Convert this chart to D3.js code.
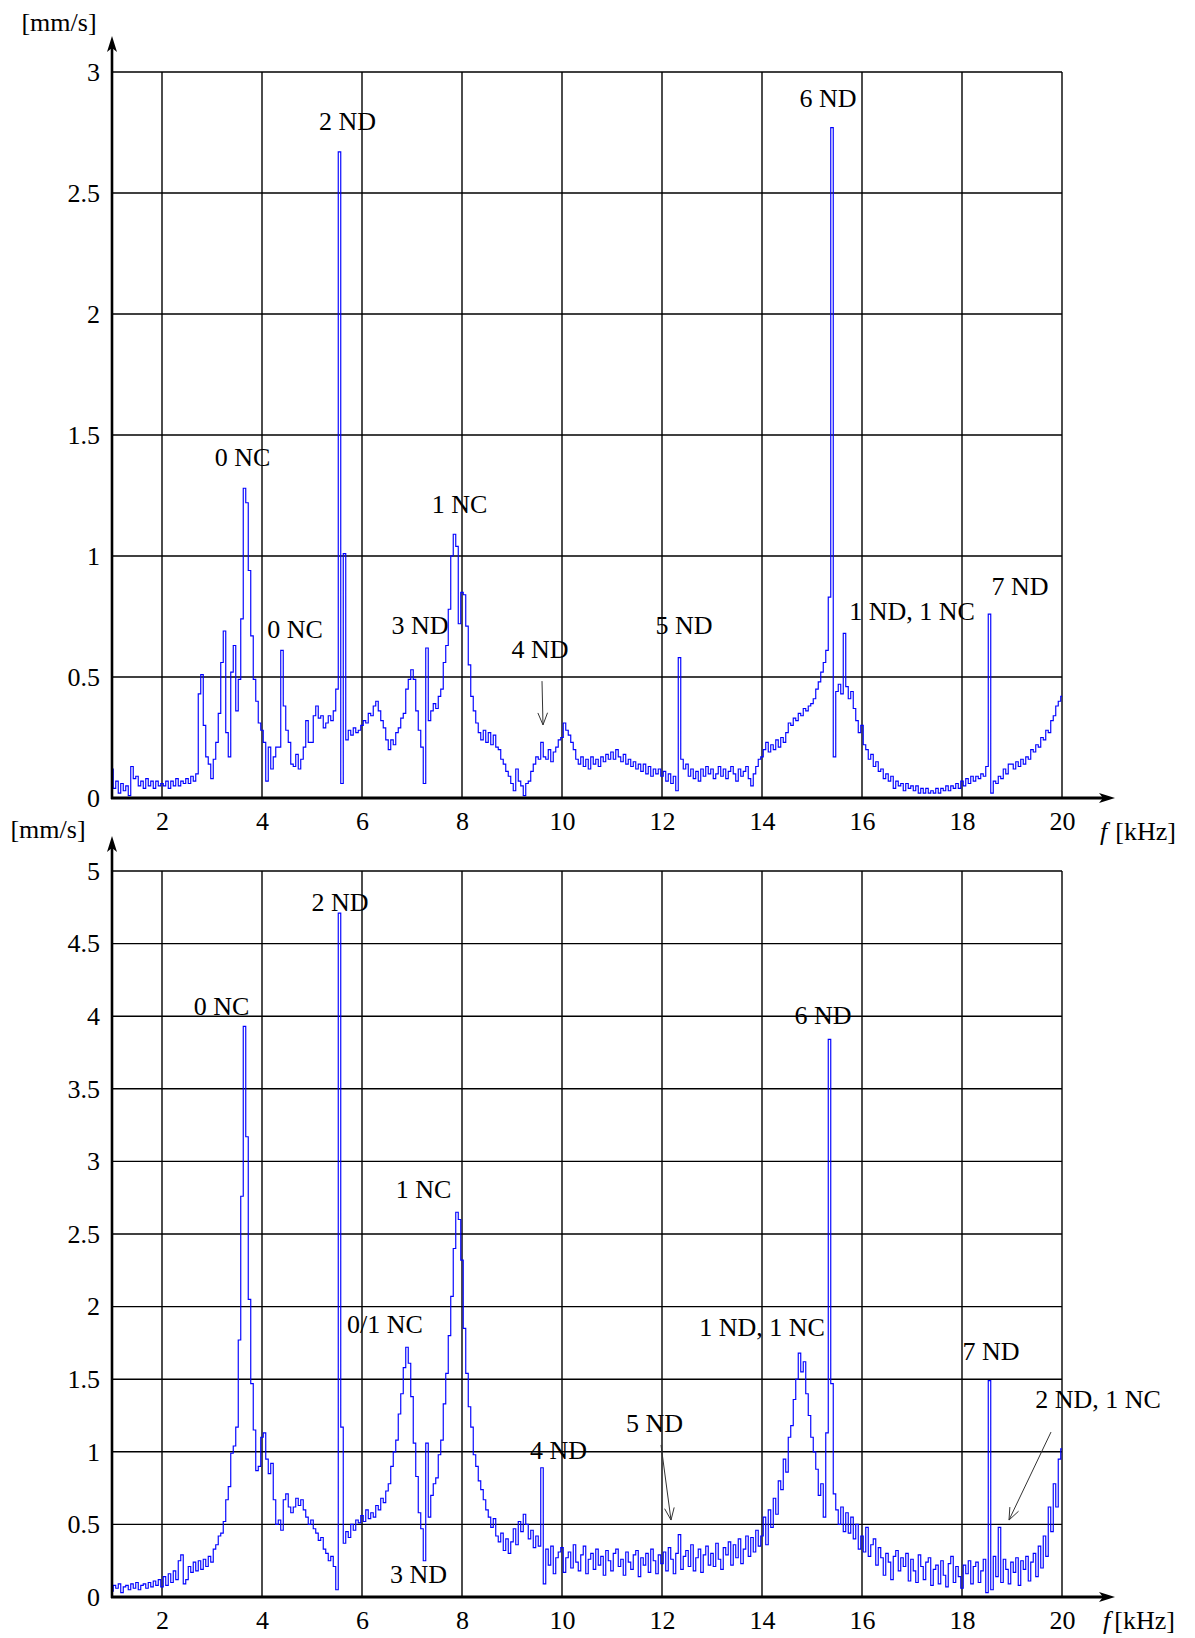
<!DOCTYPE html>
<html>
<head>
<meta charset="utf-8">
<script src="https://cdn.jsdelivr.net/npm/d3@7"></script>
<style>
  body { margin: 0; background: #fff; }
  svg text { font-family: "Liberation Serif", "Times New Roman", serif; fill: #000; }
</style>
</head>
<body>
<svg id="fig" width="1195" height="1638"></svg>
<script>
// Frequency axis ticks [kHz] and amplitude ticks [mm/s]
const freqTicks = [2, 4, 6, 8, 10, 12, 14, 16, 18, 20];
const topTicks = [0, 0.5, 1, 1.5, 2, 2.5, 3];
const bottomTicks = [0, 0.5, 1, 1.5, 2, 2.5, 3, 3.5, 4, 4.5, 5];

// Spectrum resolution: each row holds one 1 kHz band, bins every 0.05 kHz
const binWidth = 0.05;

// Upper spectrum, velocity amplitude [mm/s], bands 1..20 kHz
const topAmplitude = [
  [0.12, 0.04, 0.07, 0.02, 0.06, 0.03, 0.05, 0.01, 0.13, 0.08, 0.09, 0.05, 0.07, 0.04, 0.08, 0.05, 0.07, 0.04, 0.07, 0.05],
  [0.06, 0.05, 0.07, 0.04, 0.07, 0.05, 0.08, 0.05, 0.07, 0.06, 0.08, 0.06, 0.09, 0.07, 0.10, 0.43, 0.51, 0.30, 0.17, 0.14],
  [0.08, 0.16, 0.23, 0.35, 0.56, 0.69, 0.27, 0.17, 0.52, 0.63, 0.36, 0.49, 0.74, 1.28, 1.22, 0.94, 0.67, 0.49, 0.40, 0.31],
  [0.28, 0.23, 0.07, 0.21, 0.12, 0.17, 0.21, 0.21, 0.61, 0.38, 0.28, 0.23, 0.14, 0.13, 0.18, 0.12, 0.16, 0.21, 0.32, 0.23],
  [0.23, 0.34, 0.38, 0.33, 0.34, 0.29, 0.31, 0.34, 0.32, 0.36, 0.45, 2.67, 0.06, 1.01, 0.24, 0.28, 0.26, 0.29, 0.27, 0.28],
  [0.30, 0.32, 0.31, 0.35, 0.34, 0.38, 0.40, 0.36, 0.32, 0.29, 0.24, 0.20, 0.24, 0.22, 0.27, 0.29, 0.33, 0.35, 0.45, 0.49],
  [0.53, 0.49, 0.36, 0.28, 0.21, 0.06, 0.62, 0.32, 0.36, 0.39, 0.37, 0.42, 0.45, 0.56, 0.63, 0.78, 1.00, 1.09, 1.04, 0.72],
  [0.85, 0.84, 0.71, 0.55, 0.42, 0.36, 0.31, 0.27, 0.24, 0.28, 0.23, 0.27, 0.22, 0.26, 0.21, 0.20, 0.16, 0.14, 0.11, 0.09],
  [0.06, 0.03, 0.12, 0.07, 0.05, 0.01, 0.06, 0.07, 0.11, 0.14, 0.17, 0.16, 0.23, 0.17, 0.16, 0.20, 0.15, 0.19, 0.21, 0.24],
  [0.25, 0.31, 0.28, 0.26, 0.23, 0.20, 0.16, 0.14, 0.17, 0.13, 0.16, 0.12, 0.17, 0.14, 0.16, 0.13, 0.17, 0.15, 0.18, 0.16],
  [0.19, 0.16, 0.20, 0.17, 0.15, 0.18, 0.14, 0.16, 0.13, 0.15, 0.12, 0.14, 0.11, 0.14, 0.10, 0.13, 0.09, 0.12, 0.10, 0.12],
  [0.09, 0.11, 0.07, 0.10, 0.06, 0.09, 0.03, 0.58, 0.16, 0.12, 0.14, 0.09, 0.12, 0.08, 0.11, 0.07, 0.12, 0.09, 0.13, 0.10],
  [0.12, 0.08, 0.10, 0.13, 0.09, 0.12, 0.08, 0.11, 0.13, 0.10, 0.07, 0.12, 0.09, 0.11, 0.13, 0.08, 0.05, 0.10, 0.13, 0.16],
  [0.17, 0.20, 0.23, 0.19, 0.22, 0.20, 0.24, 0.21, 0.25, 0.23, 0.27, 0.31, 0.30, 0.33, 0.32, 0.35, 0.34, 0.37, 0.36, 0.38],
  [0.39, 0.41, 0.45, 0.48, 0.52, 0.56, 0.61, 0.83, 2.77, 0.17, 0.44, 0.47, 0.43, 0.68, 0.46, 0.41, 0.44, 0.37, 0.32, 0.27],
  [0.30, 0.22, 0.20, 0.16, 0.18, 0.13, 0.15, 0.11, 0.12, 0.08, 0.10, 0.07, 0.09, 0.04, 0.07, 0.05, 0.06, 0.03, 0.06, 0.04],
  [0.05, 0.03, 0.05, 0.02, 0.04, 0.02, 0.04, 0.02, 0.03, 0.02, 0.04, 0.02, 0.04, 0.03, 0.05, 0.03, 0.05, 0.04, 0.06, 0.04],
  [0.07, 0.05, 0.08, 0.06, 0.09, 0.07, 0.09, 0.08, 0.10, 0.09, 0.13, 0.76, 0.02, 0.07, 0.06, 0.09, 0.08, 0.12, 0.10, 0.14],
  [0.14, 0.12, 0.15, 0.13, 0.16, 0.14, 0.17, 0.16, 0.20, 0.19, 0.22, 0.21, 0.25, 0.24, 0.28, 0.27, 0.32, 0.34, 0.38, 0.40],
  [0.42]
];

// Lower spectrum, velocity amplitude [mm/s], bands 1..20 kHz
const bottomAmplitude = [
  [0.04, 0.08, 0.06, 0.09, 0.03, 0.07, 0.08, 0.05, 0.09, 0.06, 0.10, 0.05, 0.08, 0.09, 0.06, 0.10, 0.07, 0.11, 0.08, 0.12],
  [0.07, 0.14, 0.08, 0.16, 0.10, 0.18, 0.12, 0.25, 0.29, 0.09, 0.12, 0.21, 0.17, 0.24, 0.18, 0.25, 0.19, 0.26, 0.21, 0.28],
  [0.24, 0.33, 0.36, 0.42, 0.44, 0.52, 0.67, 0.76, 0.99, 1.04, 1.17, 1.77, 2.76, 3.93, 3.17, 2.05, 1.47, 1.15, 0.87, 0.90],
  [1.10, 1.13, 0.95, 0.85, 0.92, 0.67, 0.50, 0.53, 0.46, 0.67, 0.71, 0.62, 0.58, 0.62, 0.68, 0.63, 0.67, 0.60, 0.55, 0.50],
  [0.53, 0.47, 0.44, 0.39, 0.41, 0.33, 0.30, 0.25, 0.28, 0.21, 0.05, 4.71, 1.17, 0.37, 0.45, 0.41, 0.50, 0.46, 0.53, 0.51],
  [0.56, 0.52, 0.60, 0.54, 0.58, 0.55, 0.63, 0.60, 0.68, 0.65, 0.73, 0.78, 0.90, 1.00, 1.08, 1.26, 1.40, 1.58, 1.72, 1.61],
  [1.38, 1.06, 0.83, 0.58, 0.47, 0.25, 1.06, 0.55, 0.70, 0.78, 0.82, 0.98, 1.08, 1.33, 1.54, 1.80, 2.07, 2.40, 2.65, 2.60],
  [2.32, 1.85, 1.54, 1.31, 1.17, 0.98, 0.90, 0.80, 0.74, 0.67, 0.60, 0.55, 0.48, 0.54, 0.42, 0.38, 0.44, 0.32, 0.40, 0.30],
  [0.38, 0.47, 0.36, 0.52, 0.45, 0.57, 0.50, 0.40, 0.46, 0.34, 0.42, 0.35, 0.89, 0.09, 0.33, 0.22, 0.35, 0.16, 0.27, 0.31],
  [0.34, 0.17, 0.27, 0.31, 0.20, 0.36, 0.24, 0.18, 0.29, 0.35, 0.16, 0.26, 0.30, 0.19, 0.33, 0.22, 0.28, 0.15, 0.32, 0.25],
  [0.18, 0.30, 0.33, 0.21, 0.26, 0.15, 0.31, 0.24, 0.19, 0.29, 0.32, 0.14, 0.27, 0.22, 0.30, 0.17, 0.33, 0.25, 0.16, 0.29],
  [0.23, 0.31, 0.18, 0.34, 0.26, 0.16, 0.30, 0.43, 0.19, 0.28, 0.32, 0.21, 0.36, 0.18, 0.27, 0.33, 0.17, 0.29, 0.35, 0.22],
  [0.30, 0.21, 0.37, 0.26, 0.19, 0.34, 0.29, 0.38, 0.22, 0.36, 0.27, 0.40, 0.23, 0.33, 0.42, 0.28, 0.41, 0.31, 0.46, 0.35],
  [0.42, 0.55, 0.36, 0.60, 0.48, 0.68, 0.57, 0.80, 0.74, 0.95, 0.86, 1.10, 1.18, 1.36, 1.50, 1.68, 1.55, 1.62, 1.40, 1.25],
  [1.10, 1.00, 0.88, 0.70, 0.78, 0.55, 1.13, 3.84, 1.47, 0.71, 0.60, 0.50, 0.62, 0.45, 0.58, 0.44, 0.55, 0.40, 0.50, 0.33],
  [0.42, 0.31, 0.48, 0.28, 0.36, 0.40, 0.22, 0.34, 0.27, 0.15, 0.30, 0.24, 0.12, 0.28, 0.32, 0.18, 0.27, 0.21, 0.30, 0.11],
  [0.26, 0.18, 0.10, 0.29, 0.21, 0.12, 0.24, 0.27, 0.08, 0.19, 0.22, 0.09, 0.25, 0.15, 0.07, 0.23, 0.28, 0.10, 0.21, 0.14],
  [0.06, 0.22, 0.16, 0.25, 0.09, 0.21, 0.24, 0.10, 0.18, 0.26, 0.03, 1.49, 0.05, 0.28, 0.14, 0.48, 0.10, 0.26, 0.19, 0.09],
  [0.24, 0.17, 0.27, 0.08, 0.25, 0.19, 0.28, 0.11, 0.24, 0.30, 0.14, 0.35, 0.20, 0.42, 0.28, 0.62, 0.45, 0.78, 0.62, 0.95],
  [1.02]
];

// Mode labels (ND = nodal diameters, NC = nodal circles), placed in data coordinates
const topLabels = [
  { text: "2 ND", f: 5.71, v: 2.76 },
  { text: "6 ND", f: 15.32, v: 2.855 },
  { text: "0 NC", f: 3.61, v: 1.372 },
  { text: "1 NC", f: 7.95, v: 1.178 },
  { text: "0 NC", f: 4.66, v: 0.661 },
  { text: "3 ND", f: 7.16, v: 0.678 },
  { text: "4 ND", f: 9.56, v: 0.58 },
  { text: "5 ND", f: 12.44, v: 0.678 },
  { text: "1 ND, 1 NC", f: 17.0, v: 0.736 },
  { text: "7 ND", f: 19.16, v: 0.839 }
];
const bottomLabels = [
  { text: "2 ND", f: 5.56, v: 4.725 },
  { text: "0 NC", f: 3.19, v: 4.008 },
  { text: "6 ND", f: 15.22, v: 3.946 },
  { text: "1 NC", f: 7.23, v: 2.748 },
  { text: "0/1 NC", f: 6.46, v: 1.818 },
  { text: "3 ND", f: 7.13, v: 0.096 },
  { text: "1 ND, 1 NC", f: 14.0, v: 1.798 },
  { text: "7 ND", f: 18.58, v: 1.632 },
  { text: "5 ND", f: 11.85, v: 1.138 },
  { text: "4 ND", f: 9.93, v: 0.95 },
  { text: "2 ND, 1 NC", f: 20.72, v: 1.302 }
];
// Pointer arrows for labels away from their peaks
const topPointers = [ { f0: 9.60, v0: 0.483, f1: 9.62, v1: 0.302 } ];
const bottomPointers = [
  { f0: 11.98, v0: 1.047, f1: 12.18, v1: 0.53 },
  { f0: 19.78, v0: 1.136, f1: 18.94, v1: 0.53 }
];

const svg = d3.select("#fig");
const x = d3.scaleLinear().domain([1, 20]).range([112, 1062]);

function toSeries(rows) {
  const out = [];
  rows.forEach((row, r) => row.forEach((v, c) => out.push({ f: +(1 + r + c * binWidth).toFixed(2), v })));
  return out;
}

function drawPanel(cfg) {
  const y = d3.scaleLinear().domain(cfg.yDomain).range(cfg.yRange);
  const g = svg.append("g");
  const [x0, x1] = x.range();
  const y0 = y(cfg.yDomain[0]);
  const yTop = y(cfg.yDomain[1]);

  // grid
  g.append("g").selectAll("line").data(freqTicks).join("line")
    .attr("x1", d => x(d)).attr("x2", d => x(d))
    .attr("y1", y0).attr("y2", yTop)
    .attr("stroke", "#000").attr("stroke-width", 1.4);
  g.append("g").selectAll("line").data(cfg.ticks.filter(t => t > 0)).join("line")
    .attr("x1", x0).attr("x2", x1)
    .attr("y1", d => y(d)).attr("y2", d => y(d))
    .attr("stroke", "#000").attr("stroke-width", 1.4);

  // spectrum
  const line = d3.line().x(d => x(d.f)).y(d => y(d.v)).curve(d3.curveStep);
  g.append("path").datum(toSeries(cfg.amplitude))
    .attr("d", line).attr("fill", "none")
    .attr("stroke", "#0000ff").attr("stroke-width", 1.15)
    .attr("stroke-linejoin", "miter");

  // tick labels
  const yAxis = d3.axisLeft(y).tickValues(cfg.ticks).tickSize(0).tickPadding(12)
    .tickFormat(d3.format("~g"));
  g.append("g").attr("transform", `translate(${x0},0)`).call(yAxis)
    .call(s => s.select(".domain").remove())
    .selectAll("text").attr("font-size", 26).attr("font-family", "Liberation Serif").attr("fill", "#000");
  const xAxis = d3.axisBottom(x).tickValues(freqTicks).tickSize(0).tickPadding(14)
    .tickFormat(d3.format("d"));
  g.append("g").attr("transform", `translate(0,${y0})`).call(xAxis)
    .call(s => s.select(".domain").remove())
    .selectAll("text").attr("font-size", 26).attr("font-family", "Liberation Serif").attr("fill", "#000");

  // axes with arrowheads
  g.append("line").attr("x1", x0).attr("x2", x0).attr("y1", y0 + 1).attr("y2", cfg.yTip + 10)
    .attr("stroke", "#000").attr("stroke-width", 2.6);
  g.append("path")
    .attr("d", `M${x0},${cfg.yTip} L${x0 - 5},${cfg.yTip + 16} L${x0},${cfg.yTip + 12} L${x0 + 5},${cfg.yTip + 16} Z`)
    .attr("fill", "#000");
  g.append("line").attr("x1", x0 - 1).attr("x2", cfg.xTip - 10).attr("y1", y0).attr("y2", y0)
    .attr("stroke", "#000").attr("stroke-width", 2.8);
  g.append("path")
    .attr("d", `M${cfg.xTip},${y0} L${cfg.xTip - 16},${y0 - 5} L${cfg.xTip - 12},${y0} L${cfg.xTip - 16},${y0 + 5} Z`)
    .attr("fill", "#000");

  // unit labels
  g.append("text").attr("x", cfg.unitX).attr("y", cfg.unitY).attr("text-anchor", "middle")
    .attr("font-size", 26).text("[mm/s]");
  const fl = g.append("text").attr("x", cfg.fX).attr("y", cfg.fY).attr("font-size", 26);
  fl.append("tspan").attr("font-style", "italic").text("f");
  fl.append("tspan").attr("dx", cfg.fGap).text("[kHz]");

  // mode labels
  g.append("g").selectAll("text").data(cfg.labels).join("text")
    .attr("x", d => x(d.f)).attr("y", d => y(d.v))
    .attr("text-anchor", "middle").attr("font-size", 26)
    .text(d => d.text);

  // pointer arrows
  const pg = g.append("g").attr("stroke", "#333").attr("stroke-width", 1).attr("fill", "none");
  cfg.pointers.forEach(p => {
    const ax = x(p.f0), ay = y(p.v0), bx = x(p.f1), by = y(p.v1);
    const ang = Math.atan2(by - ay, bx - ax);
    const len = 13, spread = 0.38;
    pg.append("line").attr("x1", ax).attr("y1", ay).attr("x2", bx).attr("y2", by);
    pg.append("path").attr("d",
      `M${bx - len * Math.cos(ang - spread)},${by - len * Math.sin(ang - spread)} L${bx},${by} L${bx - len * Math.cos(ang + spread)},${by - len * Math.sin(ang + spread)}`);
  });
}

drawPanel({
  amplitude: topAmplitude, yDomain: [0, 3], yRange: [798, 72], ticks: topTicks,
  yTip: 36, xTip: 1115, unitX: 59, unitY: 31, fX: 1100, fY: 840, fGap: 8,
  labels: topLabels, pointers: topPointers
});
drawPanel({
  amplitude: bottomAmplitude, yDomain: [0, 5], yRange: [1597, 871], ticks: bottomTicks,
  yTip: 836, xTip: 1115, unitX: 48, unitY: 838, fX: 1103, fY: 1629, fGap: 4,
  labels: bottomLabels, pointers: bottomPointers
});
</script>
</body>
</html>
